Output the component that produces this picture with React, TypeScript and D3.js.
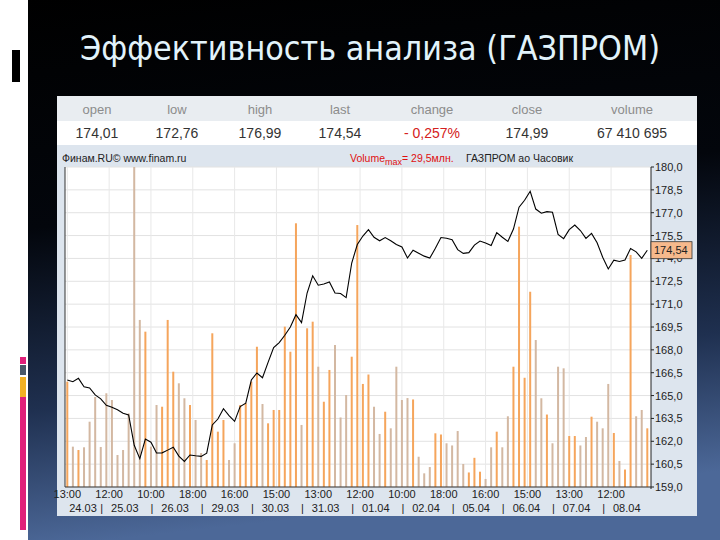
import React from "react";
import * as d3 from "d3";

// ---- data ----
const closes = [
  166.02, 165.91, 166.13, 165.58, 165.5, 165.04, 164.78, 164.36, 164.24, 164.07,
  163.84, 163.73, 161.74, 160.86, 162.15, 161.94, 161.23, 161.24, 161.42, 161.61,
  161.03, 160.68, 161.1, 161.05, 161.01, 161.22, 163.07, 163.46, 164.14, 163.69,
  163.31, 164.28, 164.5, 166.02, 166.48, 166.17, 167.18, 168.15, 168.48, 168.96,
  169.5, 170.31, 169.79, 171.73, 172.86, 172.24, 172.32, 172.45, 171.73, 171.7,
  171.43, 173.7, 174.91, 175.47, 175.89, 175.39, 175.16, 175.37, 175.16, 174.91,
  174.75, 174.03, 174.54, 174.34, 174.15, 174.02, 174.67, 175.37, 175.32, 175.23,
  174.58, 174.33, 174.38, 174.87, 175.14, 175.01, 174.85, 175.69, 175.39, 175.12,
  175.93, 177.36, 177.82, 178.41, 177.24, 176.97, 177.07, 177.03, 175.58, 175.3,
  175.89, 176.19, 175.83, 175.32, 175.64, 175.03, 174.08, 173.31, 173.89, 173.8,
  173.9, 174.65, 174.43, 174.01, 174.54,
];
const volumes = [
  9.71, 3.72, 3.41, 3.66, 6.02, 8.3, 3.69, 8.64, 8.02, 2.95,
  3.41, 6.79, 29.5, 15.4, 14.32, 3.72, 7.56, 7.4, 15.4, 10.63,
  9.56, 8.18, 7.56, 6.18, 3.13, 2.49, 14.17, 5.1, 6.18, 2.49,
  4.03, 7.56, 7.72, 9.71, 12.93, 7.65, 5.87, 7.1, 7.1, 14.78,
  12.47, 24.31, 5.72, 14.63, 15.24, 11.09, 7.86, 10.79, 13.09, 6.41,
  8.48, 12.01, 24.15, 9.5, 10.37, 7.4, 4.89, 6.94, 5.41, 11.09,
  8.02, 8.2, 8.07, 2.79, 1.26, 1.84, 4.95, 4.84, 4.03, 3.83,
  5.16, 2.12, 1.34, 2.69, 1.41, 0.74, 3.66, 5.1, 3.66, 6.52,
  11.09, 24.0, 10.07, 18.0, 13.55, 8.18, 6.68, 4.03, 11.09, 10.94,
  4.7, 4.7, 3.83, 4.61, 6.48, 6.02, 5.41, 9.5, 4.98, 2.4,
  1.61, 21.39, 6.52, 7.1, 5.41,
];
const priceTicks = [159, 160.5, 162, 163.5, 165, 166.5, 168, 169.5, 171, 172.5, 174, 175.5, 177, 178.5, 180];
const timeTickLabels = ["13:00", "12:00", "10:00", "18:00", "16:00", "15:00", "13:00", "12:00", "10:00", "18:00", "16:00", "15:00", "13:00", "12:00"];
const timeTickStep = 7.5; // bars between time labels
const dayLabels = ["24.03", "25.03", "26.03", "29.03", "30.03", "31.03", "01.04", "02.04", "05.04", "06.04", "07.04", "08.04"];
const dayStarts = [0, 6, 15, 24, 33, 42, 51, 60, 69, 78, 87, 96];
const headerNames = ["open", "low", "high", "last", "change", "close", "volume"];
const headerValues = ["174,01", "172,76", "176,99", "174,54", "- 0,257%", "174,99", "67 410 695"];
const lastPrice = 174.54;
const volumeMax = 29.5;
const title = "Эффективность анализа (ГАЗПРОМ)";

// ---- layout ----
const W = 720, H = 540;
const plot = { left: 65, right: 651, top: 167, bottom: 487 };
const headerX = [97, 177, 260, 340, 432, 527, 632];
const FONT = "'Liberation Sans', Arial, sans-serif";

const fmt = (v: number) => v.toFixed(1).replace(".", ",");

export default function App() {
  const n = closes.length;
  const x = d3.scaleLinear().domain([0, n - 1]).range([67.3, 647.3]);
  const yP = d3.scaleLinear().domain([159, 180]).range([plot.bottom, plot.top]);
  const yV = d3.scaleLinear().domain([0, volumeMax]).range([plot.bottom, plot.top]);
  const line = d3.line<number>().x((_, i) => x(i)).y((d) => yP(d));
  const timeX = timeTickLabels.map((_, j) => x(j * timeTickStep));
  const dayEnds = dayStarts.slice(1).concat([n]);

  return (
    <div style={{ position: "fixed", left: 0, top: 0, width: W, height: H }}>
      <svg width={W} height={H} style={{ display: "block" }}>
        <defs>
          <linearGradient id="bg" x1="0" y1="0" x2="0.15" y2="1">
            <stop offset="0" stopColor="#000000" />
            <stop offset="0.42" stopColor="#03060c" />
            <stop offset="0.75" stopColor="#1f3050" />
            <stop offset="1" stopColor="#4c6898" />
          </linearGradient>
        </defs>
        <rect x={0} y={0} width={W} height={H} fill="url(#bg)" />
        {/* left white strip with decorations */}
        <rect x={0} y={0} width={28} height={H} fill="#ffffff" />
        <rect x={12} y={50} width={8} height={32} fill="#000000" />
        <rect x={20} y={357} width={6} height={7} fill="#e0207a" />
        <rect x={20} y={365} width={6} height={10} fill="#4a5868" />
        <rect x={20} y={377} width={6} height={20} fill="#f2b124" />
        <rect x={20} y={397} width={6} height={133} fill="#e0207a" />

        {/* title */}
        <text x={80} y={60} fontFamily="'DejaVu Sans', sans-serif" fontSize={33} fill="#e2f3fb"
          textLength={580} lengthAdjust="spacingAndGlyphs">{title}</text>

        {/* panel */}
        <rect x={57} y={96} width={640} height={420} fill="#dde5ee" />
        <rect x={57} y={96} width={640} height={25} fill="#e9edf1" />
        <rect x={57} y={121} width={640} height={24} fill="#ffffff" />
        {headerNames.map((h, i) => (
          <text key={h} x={headerX[i]} y={114} textAnchor="middle" fontFamily={FONT} fontSize={13} fill="#8c8c8c">{h}</text>
        ))}
        {headerValues.map((v, i) => (
          <text key={i} x={headerX[i]} y={138} textAnchor="middle" fontFamily={FONT} fontSize={14}
            fill={i === 4 ? "#d42020" : "#333333"}>{v}</text>
        ))}

        {/* info line */}
        <text x={62} y={162} fontFamily={FONT} fontSize={10.5} fill="#222">Финам.RU© www.finam.ru</text>
        <text x={350} y={162} fontFamily={FONT} fontSize={10.5} fill="#e01010">
          Volume<tspan fontSize={9} dy={3}>max</tspan><tspan dy={-3}>{`= ${fmt(volumeMax)}млн.`}</tspan>
        </text>
        <text x={466} y={162} fontFamily={FONT} fontSize={10.5} fill="#222">ГАЗПРОМ ао Часовик</text>

        {/* plot background */}
        <rect x={plot.left} y={plot.top} width={plot.right - plot.left} height={plot.bottom - plot.top} fill="#ffffff" />
        {priceTicks.map((t) => (
          <line key={t} x1={plot.left} x2={plot.right} y1={yP(t)} y2={yP(t)} stroke="#e2e2e2" />
        ))}
        {timeX.map((tx, j) => (
          <line key={j} x1={tx} x2={tx} y1={plot.top} y2={plot.bottom} stroke="#e8e8e8" />
        ))}

        {/* volume bars */}
        {volumes.map((v, i) => {
          const up = i === 0 || closes[i] >= closes[i - 1];
          return (
            <rect key={i} x={x(i) - 1} y={yV(v)} width={2} height={plot.bottom - yV(v)}
              fill={up ? "#f5a55c" : "#d3b8a2"} />
          );
        })}

        {/* price line */}
        <path d={line(closes) || ""} fill="none" stroke="#000" strokeWidth={1.1} />

        {/* borders */}
        <line x1={plot.left} x2={plot.left} y1={plot.top} y2={plot.bottom} stroke="#333" />
        <line x1={plot.left} x2={plot.right} y1={plot.bottom} y2={plot.bottom} stroke="#333" />
        <line x1={plot.right} x2={plot.right} y1={plot.top} y2={plot.bottom + 2} stroke="#222" />

        {/* right axis */}
        {priceTicks.map((t) => (
          <g key={t}>
            <line x1={plot.right} x2={plot.right + 3} y1={yP(t)} y2={yP(t)} stroke="#222" />
            <text x={plot.right + 4} y={yP(t) + 4} fontFamily={FONT} fontSize={11} fill="#222">{fmt(t)}</text>
          </g>
        ))}
        <rect x={plot.right} y={yP(lastPrice) - 8.5} width={41} height={17} fill="#f6b98c" stroke="#333" strokeWidth={0.8} />
        <text x={plot.right + 3} y={yP(lastPrice) + 4} fontFamily={FONT} fontSize={11} fill="#222">
          {lastPrice.toFixed(2).replace(".", ",")}
        </text>

        {/* x axis labels */}
        {timeTickLabels.map((l, j) => (
          <text key={j} x={timeX[j]} y={498} textAnchor="middle" fontFamily={FONT} fontSize={11} fill="#222">{l}</text>
        ))}
        {dayLabels.map((l, i) => (
          <text key={l} x={(x(dayStarts[i]) + x(dayEnds[i])) / 2 - 1} y={512} textAnchor="middle"
            fontFamily={FONT} fontSize={11} fill="#222">{l}</text>
        ))}
        {dayStarts.slice(1).map((s) => (
          <text key={s} x={x(s) + 1} y={512} textAnchor="middle" fontFamily={FONT} fontSize={11} fill="#222">|</text>
        ))}
      </svg>
    </div>
  );
}
